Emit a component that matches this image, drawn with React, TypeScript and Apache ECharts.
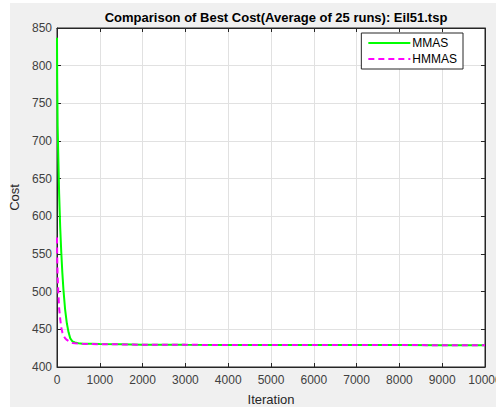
import React, { useEffect, useRef } from "react";
import * as echarts from "echarts";

// Iteration checkpoints shared by both runs
const iterations = [0, 5, 15, 30, 50, 75, 100, 125, 150, 190, 230, 270, 310, 360, 420, 500, 600, 800, 1000, 1500, 2000, 3000, 4000, 5000, 6000, 7000, 8000, 9000, 10000];
// Average best cost, MMAS
const mmasCost = [837, 780, 720, 680, 630, 585, 552, 525, 503, 476, 458, 446, 438, 434, 432.5, 431.5, 431, 430.8, 430.5, 430.2, 429.6, 429.4, 429.3, 429.2, 429.2, 429.1, 429.1, 429, 429];
// Average best cost, HMMAS
const hmmasCost = [572, 545, 520, 500, 478, 464, 452, 446, 442, 438, 436, 434.5, 433, 432, 431.5, 431, 430.8, 430.5, 430.3, 430, 429.6, 429.4, 429.3, 429.2, 429.2, 429.1, 429.1, 429, 429];

const xTicks = { min: 0, max: 10000, interval: 1000 };
const yTicks = { min: 400, max: 850, interval: 50 };

const FONT = "Liberation Sans, Arial, sans-serif";
const AXIS = "#262626";

export default function App() {
  const ref = useRef<HTMLDivElement>(null);

  useEffect(() => {
    document.body.style.margin = "0";
    const chart = echarts.init(ref.current!, null, { renderer: "svg" });
    const pairs = (ys: number[]) => iterations.map((x, i) => [x, ys[i]]);

    const mirrorAxis = {
      axisLine: { show: true, onZero: false, lineStyle: { color: AXIS, width: 1 } },
      axisTick: { show: true, inside: true, length: 4, lineStyle: { color: AXIS } },
      axisLabel: { show: false },
      splitLine: { show: false },
    };

    chart.setOption({
      animation: false,
      backgroundColor: "#ffffff",
      graphic: [
        {
          type: "rect",
          z: -10,
          shape: { x: 10, y: 3, width: 486, height: 404 },
          style: { fill: "#f0f0f0" },
          silent: true,
        },
      ],
      title: {
        text: "Comparison of Best Cost(Average of 25 runs): Eil51.tsp",
        left: 271,
        top: 6,
        textAlign: "center",
        textStyle: { fontFamily: FONT, fontSize: 13, fontWeight: "bold", color: "#000" },
      },
      legend: {
        right: 33,
        top: 33,
        orient: "vertical",
        backgroundColor: "#ffffff",
        borderColor: AXIS,
        borderWidth: 1,
        borderRadius: 0,
        padding: [4, 6, 4, 6],
        itemGap: 4,
        itemWidth: 42,
        itemHeight: 12,
        itemStyle: { opacity: 0 },
        textStyle: { fontFamily: FONT, fontSize: 12, color: "#000", padding: [0, 0, 0, -3] },
        data: ["MMAS", "HMMAS"],
      },
      grid: {
        left: 57,
        top: 28,
        width: 428,
        height: 339,
        outerBoundsMode: "none",
        containLabel: false,
        show: true,
        backgroundColor: "#ffffff",
        borderColor: AXIS,
        borderWidth: 1,
      },
      xAxis: [
        {
          type: "value",
          ...xTicks,
          name: "Iteration",
          nameLocation: "middle",
          nameGap: 26,
          nameTextStyle: { fontFamily: FONT, fontSize: 13, color: AXIS },
          axisLine: { show: true, onZero: false, lineStyle: { color: AXIS, width: 1 } },
          axisTick: { show: true, inside: true, length: 4, lineStyle: { color: AXIS } },
          axisLabel: {
            fontFamily: FONT,
            fontSize: 12,
            color: "#404040",
            margin: 7,
            hideOverlap: false,
            formatter: (v: number) => String(v),
          },
          splitLine: { show: true, lineStyle: { color: "#e1e1e1", width: 1 } },
        },
        { type: "value", position: "top", ...xTicks, ...mirrorAxis },
      ],
      yAxis: [
        {
          type: "value",
          ...yTicks,
          name: "Cost",
          nameLocation: "middle",
          nameGap: 30,
          nameTextStyle: { fontFamily: FONT, fontSize: 13, color: AXIS },
          axisLine: { show: true, onZero: false, lineStyle: { color: AXIS, width: 1 } },
          axisTick: { show: true, inside: true, length: 4, lineStyle: { color: AXIS } },
          axisLabel: { fontFamily: FONT, fontSize: 12, color: "#404040", margin: 5, formatter: (v: number) => String(v) },
          splitLine: { show: true, lineStyle: { color: "#e1e1e1", width: 1 } },
        },
        { type: "value", position: "right", ...yTicks, ...mirrorAxis },
      ],
      series: [
        {
          name: "MMAS",
          type: "line",
          data: pairs(mmasCost),
          showSymbol: false,
          symbol: "none",
          color: "#00ff00",
          lineStyle: { color: "#00ff00", width: 2 },
          z: 3,
        },
        {
          name: "HMMAS",
          type: "line",
          data: pairs(hmmasCost),
          showSymbol: false,
          symbol: "none",
          color: "#ff00ff",
          lineStyle: { color: "#ff00ff", width: 2, type: [6, 4] },
          z: 4,
        },
      ],
    });
    return () => chart.dispose();
  }, []);

  return <div ref={ref} style={{ width: 496, height: 407 }} />;
}
